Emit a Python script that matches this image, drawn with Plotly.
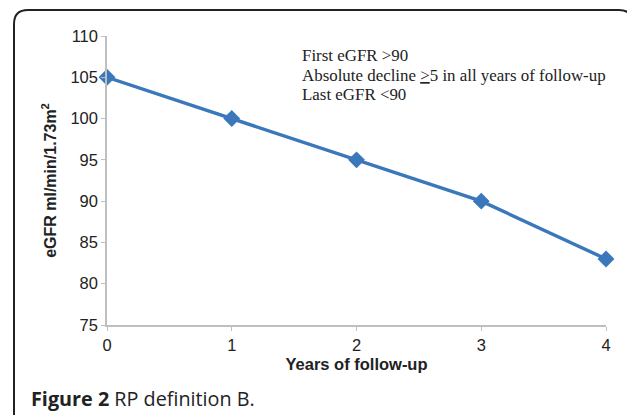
import plotly.graph_objects as go

years = [0, 1, 2, 3, 4]
egfr = [105, 100, 95, 90, 83]
y_ticks = [75, 80, 85, 90, 95, 100, 105, 110]
x_ticks = [0, 1, 2, 3, 4]
note_lines = [
    "First eGFR >90",
    "Absolute decline <span style='text-decoration:underline'>></span>5 in all years of follow-up",
    "Last eGFR <90",
]

fig = go.Figure()
fig.add_trace(go.Scatter(
    x=years, y=egfr, mode="lines+markers",
    line=dict(color="#3b78bb", width=3.4),
    marker=dict(symbol="diamond", size=13, color="#3b78bb"),
    showlegend=False, cliponaxis=False,
))

tick_font = dict(family="Liberation Sans, Arial", size=16.5, color="#222")

axis_common = dict(
    showgrid=False, zeroline=False, showline=True, linecolor="#bfbfbf", linewidth=1.5,
    ticks="outside", ticklen=4, tickcolor="#bfbfbf", tickwidth=1,
)

fig.update_layout(
    width=627, height=407,
    margin=dict(l=99, r=29, t=28, b=90),
    paper_bgcolor="white", plot_bgcolor="white",
    font=dict(family="Liberation Sans, Arial", size=16, color="#222"),
    xaxis=dict(range=[0, 4], tickvals=x_ticks, tickfont=tick_font, **axis_common,
               title=dict(text="<b>Years of follow-up</b>", standoff=6,
                          font=dict(family="Liberation Sans, Arial", size=16.5, color="#222"))),
    yaxis=dict(range=[75, 110], tickvals=y_ticks, tickfont=tick_font, **axis_common,
               title=dict(text="<b>eGFR ml/min/1.73m<sup>2</sup></b>", standoff=10,
                          font=dict(family="Liberation Sans, Arial", size=16, color="#222"))),
)

for i, line in enumerate(note_lines):
    fig.add_annotation(
        xref="paper", yref="paper", x=(300 - 107) / 499, y=(326 - (56 + 19.2 * i)) / 290,
        xanchor="left", yanchor="middle", showarrow=False, align="left",
        text=line,
        font=dict(family="Liberation Serif, Times New Roman", size=16.9, color="#222"),
    )

fig.add_annotation(
    xref="paper", yref="paper", x=(29 - 107) / 499, y=(326 - 400) / 290,
    xanchor="left", yanchor="middle", showarrow=False, align="left",
    text="<b>Figure 2</b> RP definition B.",
    font=dict(family="Open Sans, Noto Sans", size=19.8, color="#222"),
)

# rounded frame
x0, x1 = (14 - 107) / 499, (633 - 107) / 499
y1, y0 = (326 - 10) / 290, (326 - 430) / 290
rx, ry = 14 / 499, 14 / 290
path = (f"M {x0},{y0} L {x0},{y1 - ry} Q {x0},{y1} {x0 + rx},{y1} "
        f"L {x1 - rx},{y1} Q {x1},{y1} {x1},{y1 - ry} L {x1},{y0}")
fig.add_shape(type="path", xref="paper", yref="paper", path=path,
              line=dict(color="#222", width=2))

fig.write_html("out.html")
